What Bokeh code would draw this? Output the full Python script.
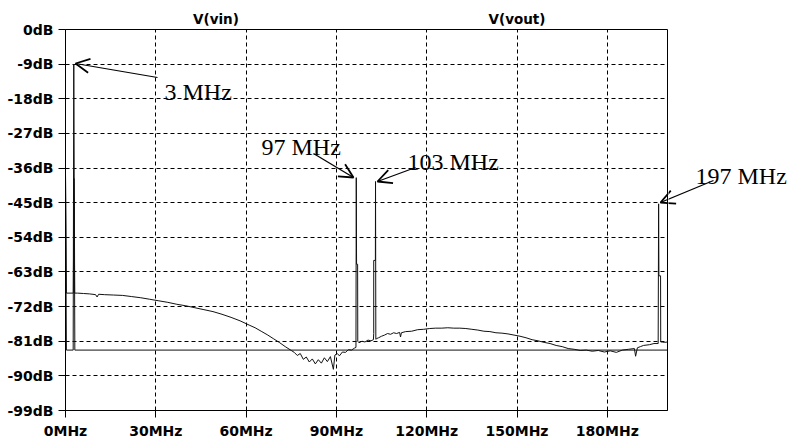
from bokeh.plotting import figure
from bokeh.layouts import row
from bokeh.models import Range1d, FixedTicker, Label, Arrow, OpenHead, LinearAxis
from bokeh.embed import file_html
from bokeh.resources import INLINE

# ---------------- data ----------------
vin_freq = [0.0, 0.3, 2.55, 2.75, 3.1, 200.0]
vin_db = [-37.5, -83.3, -83.3, -9.0, -83.3, -83.3]

vout_freq = [0.0, 0.3, 2.6, 2.8, 2.95, 3.05, 4, 6, 8, 10, 10.5, 11, 13, 16, 19, 22, 25, 28, 31, 34,
             37, 40, 43, 46, 49, 52, 55, 58, 61, 63, 65, 67, 69, 71, 73, 75, 76, 77, 78, 79, 80,
             81, 82, 83, 84, 85, 86, 87, 88, 89, 89.5, 90.3, 91, 92, 93, 94, 95, 96,
             96.5, 96.6, 96.7, 97.05, 97.1, 97.5, 98.5, 99.5, 100.5, 101.5, 102.3, 102.4, 102.4,
             102.95, 103.0, 103.1, 103.4, 104, 105, 106, 107, 108, 109, 110, 111, 111.3, 111.6,
             113, 115, 117, 119, 121, 123, 125, 127, 129, 131, 133, 135, 137, 139, 141, 143, 145,
             147, 149, 151, 153, 155, 157, 159, 161, 163, 165, 167, 169, 171, 173, 175, 177, 179,
             181, 183, 185, 187, 189, 189.4, 190, 191, 192, 194, 195.5, 196.9, 197.05, 197.15,
             197.7, 197.75, 198.2, 199, 200]
vout_db = [-37.5, -68.5, -68.5, -38.7, -46.0, -68.5, -68.5, -68.6, -68.7, -68.9, -69.5, -68.8,
           -68.9, -69.0, -69.1, -69.4, -69.7, -70.1, -70.5, -70.9, -71.4, -71.8, -72.3, -72.8,
           -73.3, -74.0, -74.8, -75.7, -76.8, -77.5, -78.4, -79.3, -80.3, -81.3, -82.4, -83.4,
           -83.9, -84.7, -84.2, -85.7, -85.1, -86.4, -85.6, -86.9, -85.8, -86.7, -85.3, -86.3,
           -85.0, -88.3, -84.6, -84.2, -84.8, -83.8, -83.9, -83.2, -83.3, -82.8,
           -82.6, -38.5, -61.0, -61.0, -81.0, -81.4, -81.0, -81.2, -80.7, -80.9, -80.6, -79.0,
           -60.0, -60.0, -39.5, -80.5, -80.3, -80.1, -79.7, -79.4, -79.0, -79.2, -78.8, -79.0,
           -78.7, -79.9, -78.8, -78.5, -78.4, -78.0, -77.9, -77.7, -77.6, -77.6, -77.5, -77.6,
           -77.6, -77.7, -77.9, -78.1, -78.4, -78.5, -78.8, -78.9, -79.1, -79.4, -79.7, -80.1,
           -80.6, -80.9, -81.3, -81.6, -82.1, -82.4, -82.9, -83.1, -83.4, -83.3, -83.6, -83.4,
           -83.8, -83.5, -83.9, -83.3, -83.1, -82.9, -84.9, -82.7, -82.4, -82.1, -81.9, -81.6,
           -81.6, -45.3, -64.0, -64.0, -81.2, -81.2, -81.3, -81.2]

y_ticks = [0, -9, -18, -27, -36, -45, -54, -63, -72, -81, -90, -99]
y_tick_labels = ["0dB", "-9dB", "-18dB", "-27dB", "-36dB", "-45dB", "-54dB", "-63dB",
                 "-72dB", "-81dB", "-90dB", "-99dB"]
x_ticks = [0, 30, 60, 90, 120, 150, 180]
x_tick_labels = ["0MHz", "30MHz", "60MHz", "90MHz", "120MHz", "150MHz", "180MHz"]

trace_names = ["V(vin)", "V(vout)"]
trace_title_freq = [50, 150]

peak_labels = ["3 MHz", "97 MHz", "103 MHz", "197 MHz"]

# ---------------- layout helpers (page pixels -> data) ----------------
FX0, FY0, FW, FH = 65.0, 29.0, 602.0, 381.0
XMAX, YMIN = 200.0, -99.0
MAIN_W, TOTAL_W, TOTAL_H = 668, 790, 441


def px_x(px):
    return (px - FX0) / FW * XMAX


def px_y(py):
    return (py - FY0) / FH * YMIN


yr = Range1d(YMIN, 0)

fig = figure(width=MAIN_W, height=TOTAL_H, x_range=Range1d(0, XMAX), y_range=yr,
             output_backend="svg", toolbar_location=None,
             min_border_left=65, min_border_right=MAIN_W - 65 - 602,
             min_border_top=29, min_border_bottom=31)
fig.background_fill_color = "white"
fig.border_fill_color = "white"
fig.outline_line_color = "black"
fig.outline_line_width = 1
fig.outline_line_alpha = 1

for ax in (fig.xaxis[0], fig.yaxis[0]):
    ax.major_tick_out = 7
    ax.major_tick_in = 0
    ax.minor_tick_out = 0
    ax.minor_tick_in = 0
    ax.major_tick_line_color = "black"
    ax.axis_line_color = "black"
    ax.major_label_text_font = "DejaVu Sans"
    ax.major_label_text_font_style = "bold"
    ax.major_label_text_font_size = "14px"
    ax.major_label_text_color = "black"

fig.yaxis.ticker = FixedTicker(ticks=y_ticks)
fig.yaxis.major_label_overrides = {t: l for t, l in zip(y_ticks, y_tick_labels)}
fig.yaxis.major_label_standoff = 5
fig.xaxis.ticker = FixedTicker(ticks=x_ticks)
fig.xaxis.major_label_overrides = {t: l for t, l in zip(x_ticks, x_tick_labels)}
fig.xaxis.major_label_standoff = 5

# trace names shown above the plot as an axis without line or ticks
top_axis = LinearAxis(ticker=FixedTicker(ticks=trace_title_freq),
                      major_label_overrides={t: n for t, n in zip(trace_title_freq, trace_names)},
                      axis_line_color=None, major_tick_line_color=None,
                      minor_tick_line_color=None, major_tick_out=0, major_tick_in=0,
                      minor_tick_out=0, minor_tick_in=0, major_label_standoff=3,
                      major_label_text_font="DejaVu Sans", major_label_text_font_style="bold",
                      major_label_text_font_size="13.5px", major_label_text_color="black")
fig.add_layout(top_axis, "above")

for g in (fig.xgrid[0], fig.ygrid[0]):
    g.grid_line_color = "black"
    g.grid_line_dash = "4 3"
    g.grid_line_width = 1

fig.line(vin_freq, vin_db, line_color="#111111", line_width=1)
fig.line(vout_freq, vout_db, line_color="#111111", line_width=1)

# side panel to the right of the frame (carries the part of the annotation outside the frame)
side = figure(width=TOTAL_W - MAIN_W, height=TOTAL_H,
              x_range=Range1d(px_x(MAIN_W), px_x(TOTAL_W)), y_range=yr,
              output_backend="svg", toolbar_location=None,
              x_axis_location=None, y_axis_location=None,
              min_border_left=0, min_border_right=0, min_border_top=29, min_border_bottom=31)
side.grid.visible = False
side.outline_line_color = None
side.background_fill_color = "white"
side.border_fill_color = "white"

label_px = [(164, 91), (261, 146), (407, 161), (695, 175)]
label_in_side = [False, False, False, True]
arrow_px = [((157, 77), (75, 63)), ((313, 153), (353, 177)),
            ((415, 167), (377, 181)), ((713, 180), (660, 202))]

for txt, (lx, ly), in_side, ((sx, sy), (ex, ey)) in zip(peak_labels, label_px, label_in_side,
                                                         arrow_px):
    target_label = side if in_side else fig
    target_label.add_layout(Label(x=px_x(lx), y=px_y(ly), text=txt,
                                  text_font="Liberation Serif", text_font_size="24px",
                                  text_align="left", text_baseline="alphabetic",
                                  text_color="black"))
    for target in (fig, side):
        target.add_layout(Arrow(end=OpenHead(size=14, line_width=1.8, line_color="black"),
                                x_start=px_x(sx), y_start=px_y(sy), x_end=px_x(ex),
                                y_end=px_y(ey), line_width=1.2, line_color="black"))

p = row(fig, side)
open("out.html", "w").write(file_html(p, INLINE))
